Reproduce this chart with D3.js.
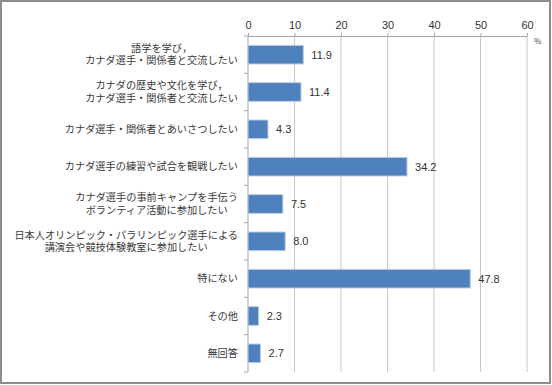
<!DOCTYPE html>
<html>
<head>
<meta charset="utf-8">
<script src="https://cdn.jsdelivr.net/npm/d3@7"></script>
<style>
  body { margin: 0; background: #fff; }
  svg { display: block; font-family: "Noto Sans CJK JP", sans-serif; }
</style>
</head>
<body>
<div id="chart"></div>
<script>
const categories = [
    "語学を学び，\nカナダ選手・関係者と交流したい",
    "カナダの歴史や文化を学び，\nカナダ選手・関係者と交流したい",
    "カナダ選手・関係者とあいさつしたい",
    "カナダ選手の練習や試合を観戦したい",
    "カナダ選手の事前キャンプを手伝う\nボランティア活動に参加したい",
    "日本人オリンピック・パラリンピック選手による\n講演会や競技体験教室に参加したい",
    "特にない",
    "その他",
    "無回答"
];
const values = [11.9, 11.4, 4.3, 34.2, 7.5, 8.0, 47.8, 2.3, 2.7];
const tickValues = [0, 10, 20, 30, 40, 50, 60];

const W = 552, H = 385;
const margin = { top: 36, right: 25, bottom: 13, left: 248 };

const svg = d3.select("#chart").append("svg")
    .attr("width", W)
    .attr("height", H);

// outer frame
svg.append("rect")
    .attr("x", 1).attr("y", 1)
    .attr("width", W - 3).attr("height", H - 3)
    .attr("fill", "#fff")
    .attr("stroke", "#8c8c8c")
    .attr("stroke-width", 2);

const x = d3.scaleLinear().domain([0, 60]).range([margin.left, W - margin.right]);
const y = d3.scaleBand().domain(d3.range(categories.length))
    .range([margin.top, H - margin.bottom])
    .paddingInner(0.5).paddingOuter(0.25);

// gridlines
svg.append("g")
    .selectAll("line")
    .data(tickValues.slice(1))
    .enter().append("line")
    .attr("x1", d => x(d)).attr("x2", d => x(d))
    .attr("y1", margin.top).attr("y2", H - margin.bottom)
    .attr("stroke", "#c8c8c8");

// top axis
const xAxis = svg.append("g")
    .attr("transform", `translate(0,${margin.top})`)
    .call(d3.axisTop(x).tickValues(tickValues).tickSize(3).tickPadding(4));
xAxis.select(".domain").attr("stroke", "#a6a6a6");
xAxis.selectAll(".tick line").attr("stroke", "#a6a6a6");
xAxis.selectAll("text").attr("fill", "#333").style("font-family", "Arial, 'Liberation Sans', sans-serif").style("font-size", "11px");

svg.append("text")
    .attr("x", x(60) + 7).attr("y", margin.top + 8)
    .attr("fill", "#444")
    .style("font-size", "8px")
    .text("%");

// left axis with ticks between categories
const step = y.step();
const leftAxis = svg.append("g");
leftAxis.append("line")
    .attr("x1", margin.left).attr("x2", margin.left)
    .attr("y1", margin.top).attr("y2", H - margin.bottom)
    .attr("stroke", "#a6a6a6");
leftAxis.selectAll(".sep")
    .data(d3.range(categories.length + 1))
    .enter().append("line")
    .attr("x1", margin.left - 4).attr("x2", margin.left)
    .attr("y1", d => margin.top + d * step)
    .attr("y2", d => margin.top + d * step)
    .attr("stroke", "#a6a6a6");

// bars
svg.append("g")
    .selectAll("rect")
    .data(values)
    .enter().append("rect")
    .attr("x", x(0))
    .attr("y", (d, i) => y(i))
    .attr("width", d => x(d) - x(0))
    .attr("height", y.bandwidth())
    .attr("fill", "#4f81bd")
    .attr("stroke", "#bcd0e8")
    .attr("stroke-width", 1);

// value labels
svg.append("g")
    .selectAll("text")
    .data(values)
    .enter().append("text")
    .attr("x", d => x(d) + 8)
    .attr("y", (d, i) => y(i) + y.bandwidth() / 2)
    .attr("dy", "0.35em")
    .attr("fill", "#333")
    .style("font-family", "Arial, 'Liberation Sans', sans-serif")
    .style("font-size", "11px")
    .text(d => d.toFixed(1));

// category labels: lines centred within the block, block right-aligned to the axis
const labelRight = margin.left - 10;
const lab = svg.append("g")
    .selectAll("text")
    .data(categories)
    .enter().append("text")
    .attr("text-anchor", "middle")
    .attr("fill", "#3a3a3a")
    .style("font-size", "10.2px");
lab.each(function (d, i) {
    const lines = d.split("\n");
    const cy = y(i) + y.bandwidth() / 2;
    const lh = 12.5;
    const spans = d3.select(this).selectAll("tspan")
        .data(lines)
        .enter().append("tspan")
        .attr("y", (l, j) => cy + (j - (lines.length - 1) / 2) * lh)
        .attr("dy", "0.35em")
        .text(l => l);
    let maxW = 0;
    spans.each(function () { maxW = Math.max(maxW, this.getComputedTextLength()); });
    spans.attr("x", labelRight - maxW / 2);
});
</script>
</body>
</html>
